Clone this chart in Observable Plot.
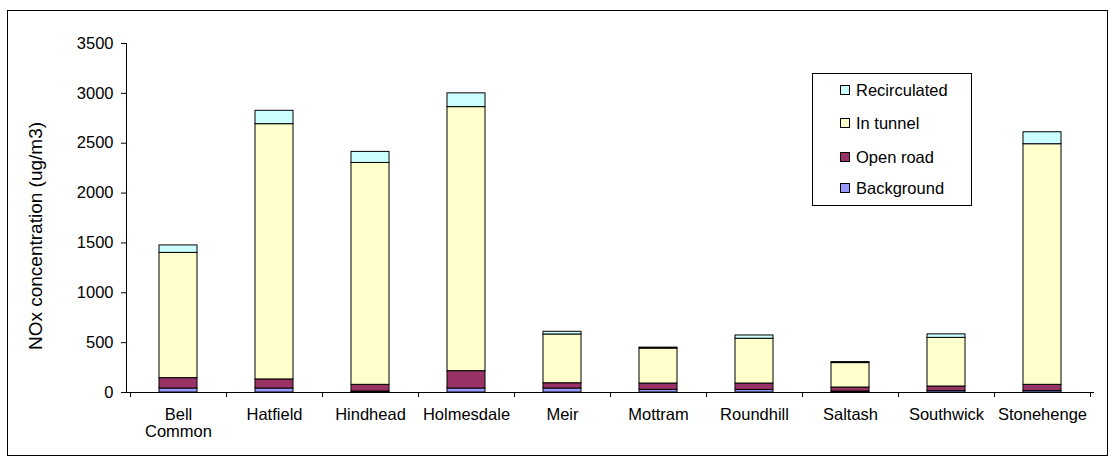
<!DOCTYPE html>
<html>
<head>
<meta charset="utf-8">
<script src="https://cdn.jsdelivr.net/npm/d3@7"></script>
<script src="https://cdn.jsdelivr.net/npm/@observablehq/plot@0.6"></script>
<style>
  html, body { margin: 0; padding: 0; background: #fff; }
  #wrap { position: relative; width: 1115px; height: 466px; overflow: hidden;
          font-family: "Liberation Sans", Arial, sans-serif; color: #000; }
  #frame { position: absolute; left: 7px; top: 10px; width: 1101px; height: 446px;
           border: 1px solid #000; box-sizing: border-box; }
  #chart { position: absolute; left: 0; top: 0; }
  #ytitle { position: absolute; left: -114px; top: 224px; width: 300px; text-align: center;
            font-size: 19px; line-height: 24px; transform: rotate(-90deg); white-space: nowrap; }
  #legend { position: absolute; left: 812px; top: 73px; width: 160px; height: 133px;
            border: 1px solid #000; box-sizing: border-box; background: #fff; }
  .item { position: absolute; left: 27px; height: 20px; display: flex; align-items: center;
          font-size: 16.5px; white-space: nowrap; }
  .sw { width: 8px; height: 8px; border: 1px solid #000; margin-right: 6px; }
</style>
</head>
<body>
<div id="wrap">
  <div id="frame"></div>
  <div id="chart"></div>
  <div id="ytitle"></div>
  <div id="legend"></div>
</div>
<script>
// Tunnel sites
const sites = ["Bell Common", "Hatfield", "Hindhead", "Holmesdale", "Meir",
               "Mottram", "Roundhill", "Saltash", "Southwick", "Stonehenge"];
const siteLabels = ["Bell\nCommon", "Hatfield", "Hindhead", "Holmesdale", "Meir",
                    "Mottram", "Roundhill", "Saltash", "Southwick", "Stonehenge"];

// NOx contributions (ug/m3), stacked bottom to top
const background   = [40, 40, 10, 40, 40, 27, 25, 10, 15, 15];
const openRoad     = [104, 91, 67, 174, 53, 63, 65, 40, 45, 62];
const inTunnel     = [1256, 2560, 2225, 2648, 489, 350, 449, 245, 488, 2413];
const recirculated = [75, 134, 111, 138, 27, 10, 33, 10, 35, 120];

const seriesNames  = ["Background", "Open road", "In tunnel", "Recirculated"];
const seriesColors = ["#9999FF", "#993366", "#FFFFCC", "#CCFFFF"];
const yTicks = [0, 500, 1000, 1500, 2000, 2500, 3000, 3500];
const yTitle = "NOx concentration (ug/m3)";

const seriesValues = [background, openRoad, inTunnel, recirculated];
const rows = [];
seriesNames.forEach((name, s) => {
  sites.forEach((site, i) => rows.push({site, series: name, value: seriesValues[s][i]}));
});

// Axis lines plus category-boundary ticks on the x axis
function axisLines(index, scales, values, dims) {
  const x = scales.x, y = scales.y;
  const step = x(sites[1]) - x(sites[0]);
  const bw = typeof x.bandwidth === "function" ? x.bandwidth() : step * 0.4;
  const y0 = y(0), yTop = y(yTicks[yTicks.length - 1]);
  const left = dims.marginLeft, right = dims.width - dims.marginRight;
  const g = d3.create("svg:g").attr("stroke", "#000").attr("stroke-width", 1).attr("shape-rendering", "crispEdges");
  g.append("line").attr("x1", left).attr("x2", left).attr("y1", yTop).attr("y2", y0);
  g.append("line").attr("x1", left).attr("x2", right).attr("y1", y0).attr("y2", y0);
  const bounds = sites.map(s => x(s) + bw / 2 - step / 2);
  bounds.push(bounds[bounds.length - 1] + step);
  for (const b of bounds) {
    g.append("line").attr("x1", b).attr("x2", b).attr("y1", y0).attr("y2", y0 + 5);
  }
  return g.node();
}

const chart = Plot.plot({
  width: 1115,
  height: 466,
  marginLeft: 126,
  marginRight: 21,
  marginTop: 43,
  marginBottom: 74,
  style: {fontFamily: '"Liberation Sans", Arial, sans-serif', fontSize: "16.5px", color: "#000", background: "transparent"},
  x: {domain: sites, paddingInner: 0.6, paddingOuter: 0.3, label: null, tickSize: 0, tickPadding: 16,
      tickFormat: d => siteLabels[sites.indexOf(d)]},
  y: {domain: [0, 3500], ticks: yTicks, tickSize: 5, tickPadding: 8, label: null, tickFormat: d => String(d)},
  color: {domain: seriesNames, range: seriesColors},
  marks: [
    Plot.barY(rows, {x: "site", y: "value", fill: "series", z: "series", order: seriesNames,
                     stroke: "#000", strokeWidth: 1, inset: 0}),
    axisLines
  ]
});
document.getElementById("chart").appendChild(chart);

document.getElementById("ytitle").textContent = yTitle;

// Legend, top series first
const legend = document.getElementById("legend");
const legendTops = [6, 39, 73, 104];
seriesNames.slice().reverse().forEach((name, i) => {
  const item = document.createElement("div");
  item.className = "item";
  item.style.top = legendTops[i] + "px";
  const sw = document.createElement("div");
  sw.className = "sw";
  sw.style.background = seriesColors[seriesNames.indexOf(name)];
  item.appendChild(sw);
  item.appendChild(document.createTextNode(name));
  legend.appendChild(item);
});
</script>
</body>
</html>
